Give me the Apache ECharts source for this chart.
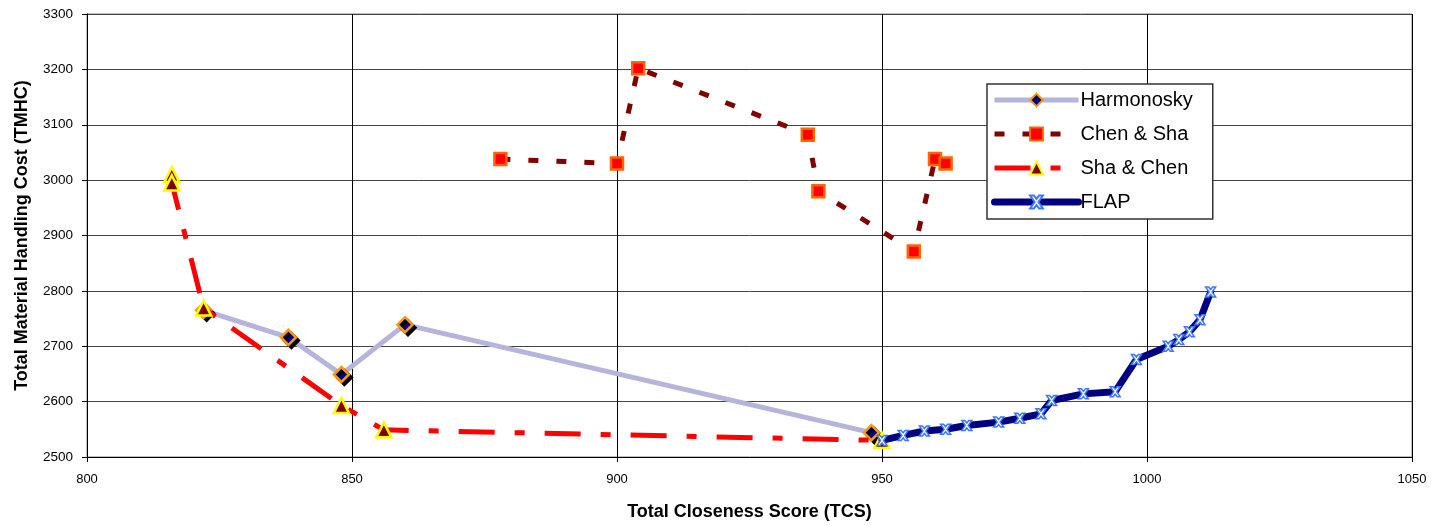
<!DOCTYPE html>
<html>
<head>
<meta charset="utf-8">
<script src="https://cdn.jsdelivr.net/npm/echarts@6/dist/echarts.min.js"></script>
<style>
  html, body { margin: 0; padding: 0; background: #fff; }
  #chart { width: 1444px; height: 526px; }
</style>
</head>
<body>
<div id="chart"></div>
<script>
// Layout scores: [TCS, TMHC] pairs per method
const harmonosky = [[822, 2765], [838, 2716], [848, 2649], [860, 2739], [948, 2544]];
const chenSha = [[878, 3038], [900, 3030], [904, 3202], [936, 3082], [938, 2980], [956, 2871], [960, 3038], [962, 3030]];
const shaChen = [[816, 3010], [816, 2995], [822, 2769], [848, 2593], [856, 2549], [950, 2530]];
const flap = [[950, 2530], [954, 2539], [958, 2547], [962, 2550], [966, 2557], [972, 2563], [976, 2570], [980, 2578],
  [982, 2602], [988, 2614], [994, 2618], [998, 2676], [1004, 2700], [1006, 2712], [1008, 2726], [1010, 2748], [1012, 2798]];

const seriesNames = ['Harmonosky', 'Chen & Sha', 'Sha & Chen', 'FLAP'];
const xTicks = { min: 800, max: 1050, step: 50 };
const yTicks = { min: 2500, max: 3300, step: 100 };

const FONT = 'Arial, "Liberation Sans", sans-serif';
const xMark = 'path://M0,0 L3,0 L5,2.5 L7,0 L10,0 L6.5,5 L10,10 L7,10 L5,7.5 L3,10 L0,10 L3.5,5 Z';

// per-method styling
const styles = [
  { symbol: 'diamond', size: 15,
    line: { color: '#B4B4DC', width: 5 },
    item: { color: '#000080', borderColor: '#FF9900', borderWidth: 2.5 } },
  { symbol: 'rect', size: 12,
    line: { color: '#800000', width: 5, type: [10, 18] },
    item: { color: '#FF0000', borderColor: '#FF6600', borderWidth: 2.5 } },
  { symbol: 'triangle', size: 15,
    line: { color: '#FF0000', width: 5, type: [36, 20, 10, 20] },
    item: { color: '#800000', borderColor: '#FFFF00', borderWidth: 2.5 } },
  { symbol: xMark, size: 10,
    line: { color: '#000080', width: 7, cap: 'round', join: 'round' },
    item: { color: '#fff', borderColor: '#3C78FF', borderWidth: 1.5 } }
];
const dataSets = [harmonosky, chenSha, shaChen, flap];

const plain = v => String(v);

const chart = echarts.init(document.getElementById('chart'), null, { renderer: 'canvas' });
chart.setOption({
  animation: false,
  backgroundColor: '#fff',
  grid: { left: 87, right: 32, top: 14, bottom: 66, show: true, borderColor: '#808080', borderWidth: 1, backgroundColor: '#fff' },
  xAxis: {
    type: 'value', min: xTicks.min, max: xTicks.max, interval: xTicks.step,
    name: 'Total Closeness Score (TCS)', nameLocation: 'middle', nameGap: 46,
    nameTextStyle: { fontFamily: FONT, fontSize: 18, fontWeight: 'bold', color: '#000' },
    axisLine: { show: true, onZero: false, lineStyle: { color: '#000', width: 1 } },
    axisTick: { show: true, inside: false, length: 5, lineStyle: { color: '#000' } },
    axisLabel: { fontFamily: FONT, fontSize: 13, color: '#000', margin: 16, formatter: plain },
    splitLine: { show: true, lineStyle: { color: '#000', width: 1 } }
  },
  yAxis: {
    type: 'value', min: yTicks.min, max: yTicks.max, interval: yTicks.step,
    name: 'Total Material Handling Cost (TMHC)', nameLocation: 'middle', nameGap: 56,
    nameTextStyle: { fontFamily: FONT, fontSize: 18, fontWeight: 'bold', color: '#000' },
    axisLine: { show: true, onZero: false, lineStyle: { color: '#000', width: 1 } },
    axisTick: { show: true, inside: false, length: 5, lineStyle: { color: '#000' } },
    axisLabel: { fontFamily: FONT, fontSize: 13.5, color: '#000', margin: 14, formatter: plain },
    splitLine: { show: true, lineStyle: { color: '#444', width: 1 } }
  },
  legend: {
    orient: 'vertical', left: 987, top: 84,
    data: seriesNames.map((n, i) => ({
      name: n,
      lineStyle: Object.assign({}, styles[i].line)
    })),
    itemWidth: 84, itemHeight: 16, itemGap: 14,
    padding: [6, 20, 7, 4],
    backgroundColor: '#fff', borderColor: '#333', borderWidth: 1.5,
    textStyle: { fontFamily: FONT, fontSize: 20, color: '#000', padding: [0, 0, 0, -3] }
  },
  series: seriesNames.map((n, i) => ({
    name: n, type: 'line', data: dataSets[i],
    symbol: styles[i].symbol, symbolSize: styles[i].size,
    lineStyle: styles[i].line,
    itemStyle: i === 0
      ? Object.assign({ shadowColor: '#000', shadowOffsetX: 3, shadowOffsetY: 3, shadowBlur: 0 }, styles[i].item)
      : styles[i].item,
    z: 2 + i
  }))
});
</script>
</body>
</html>
